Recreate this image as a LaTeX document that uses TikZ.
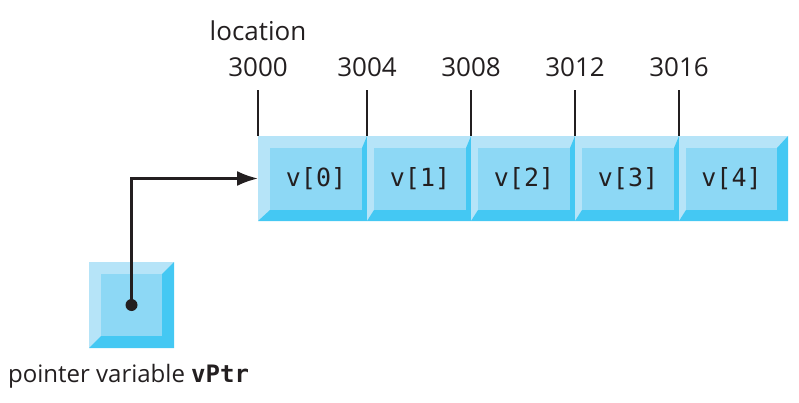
\documentclass[tikz,border=0pt]{standalone}
\usepackage{fontspec}
\setmainfont{Open Sans}
\setmonofont{DejaVu Sans Mono}
\usetikzlibrary{arrows.meta}

\definecolor{bevellight}{RGB}{182,228,248}
\definecolor{bevelface}{RGB}{141,216,245}
\definecolor{beveldark}{RGB}{68,200,243}
\definecolor{inkgray}{RGB}{35,31,32}

\tikzstyle{cell} = [rectangle, fill=bevellight, inner sep=0pt, outer sep=0pt]
\tikzstyle{face} = [rectangle, fill=bevelface, inner sep=0pt, outer sep=0pt, text=inkgray, font=\fontsize{25}{30}\selectfont\ttfamily]
\tikzstyle{addr} = [text=inkgray, font=\fontsize{26}{30}\selectfont, inner sep=0pt]
\tikzstyle{tick} = [draw=inkgray, line width=1.7pt]
\tikzstyle{ptr} = [draw=inkgray, line width=2.4pt, -{Latex[length=21pt,width=15pt]}]
\tikzstyle{end} = [circle, minimum width=12pt, fill=inkgray, inner sep=0pt]

\begin{document}
\begin{tikzpicture}[x=1pt, y=-1pt]
\useasboundingbox (0,0) rectangle (799,403);
%kop
\node[addr, anchor=base] (location) at (258,41) {location};
%begin array v
\foreach \i/\l/\r/\bl/\br/\adr in {0/258/367/12/5/3000, 1/367/471/7/5/3004, 2/471/575/7/5/3008, 3/575/679/7/5/3012, 4/679/788/7/11/3016} {
    \node[cell, minimum width=\r-\l, minimum height=85, anchor=north west] (cell\i) at (\l,136) {};
    \fill[beveldark] (cell\i.south west) -- ++(\bl,-11) -- (\r-\br,210) -- (\r-\br,148) -- (cell\i.north east) -- (cell\i.south east) -- cycle;
    \node[face, minimum width=\r-\l-\bl-\br, minimum height=62, anchor=north west] (v\i) at (\l+\bl,148) {v[\i]};
    %adres met streepje
    \node[addr, anchor=base] (adr\i) at (\l,77) {\adr};
    \draw[tick] (cell\i.north west) -- (\l,90);
}
%end array v
%begin pointer vPtr
\node[cell, minimum width=85, minimum height=86, anchor=north west] (vPtr) at (89,262) {};
\fill[beveldark] (vPtr.south west) -- ++(12,-12) -- (162,336) -- (162,274) -- (vPtr.north east) -- (vPtr.south east) -- cycle;
\node[face, minimum width=61, minimum height=62, anchor=north west] (vPtrface) at (101,274) {};
\node[end] (dot) at (vPtrface.center) {};
\node[addr, anchor=base west, font=\fontsize{24}{28}\selectfont] (vPtrlabel) at (8,382) {pointer variable \texttt{\bfseries vPtr}};
%end pointer vPtr
\draw[ptr] (dot.center) |- (cell0.west);
\end{tikzpicture}
\end{document}
